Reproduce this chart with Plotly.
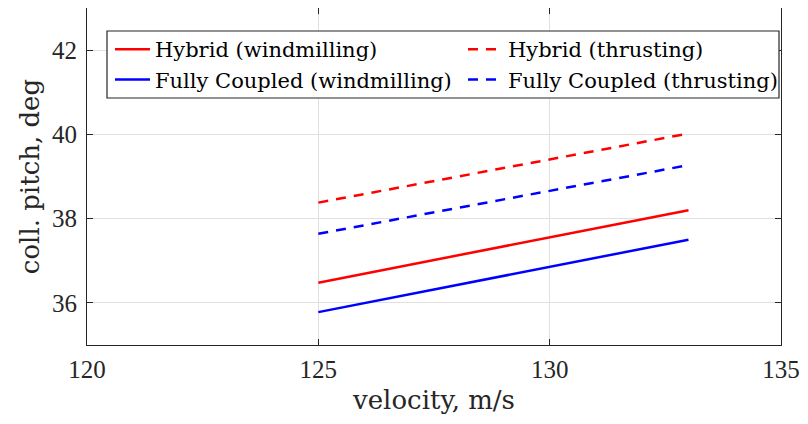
import plotly.graph_objects as go

velocity = [125, 133]
hybrid_wind = [36.48, 38.20]
fc_wind = [35.78, 37.50]
hybrid_thrust = [38.38, 40.02]
fc_thrust = [37.64, 39.27]

x_ticks = [120, 125, 130, 135]
y_ticks = [36, 38, 40, 42]

NUM_FONT = "Liberation Serif"
TXT_FONT = "DejaVu Serif"
AX = "#262626"

# page has an 8px body margin, so the figure is 8px smaller than the window
W, H = 800, 416
L, R, T, B = 79, 27, 0, 79
PW, PH = W - L - R, H - T - B
OFF = 8  # page offset of the figure


def px_x(page_x):
    return (page_x - OFF - L) / PW


def px_y(page_y):
    return (H - B - (page_y - OFF)) / PH


fig = go.Figure()
series = [
    ("Hybrid (windmilling)", hybrid_wind, "#ff0000", "solid", "legend"),
    ("Fully Coupled (windmilling)", fc_wind, "#0000ff", "solid", "legend"),
    ("Hybrid (thrusting)", hybrid_thrust, "#ff0000", "10px,8px", "legend2"),
    ("Fully Coupled (thrusting)", fc_thrust, "#0000ff", "10px,8px", "legend2"),
]
for name, vals, color, dash, leg in series:
    fig.add_trace(go.Scatter(x=velocity, y=vals, mode="lines", name=name, legend=leg,
                             line=dict(color=color, width=2.5, dash=dash)))

axis_common = dict(showline=True, linecolor=AX, linewidth=1.2, mirror="ticks",
                   ticks="inside", ticklen=6, tickcolor=AX, tickwidth=1.2,
                   showgrid=True, gridcolor="#e0e0e0", gridwidth=1, zeroline=False,
                   automargin=False,
                   tickfont=dict(family=NUM_FONT, size=25, color=AX))

fig.update_xaxes(range=[120, 135], tickvals=x_ticks, ticktext=[str(v) for v in x_ticks],
                 ticklabelstandoff=2,
                 title=dict(text="velocity, m/s", font=dict(family=TXT_FONT, size=26, color=AX), standoff=8),
                 **axis_common)
fig.update_yaxes(range=[35, 43], tickvals=y_ticks, ticktext=[str(v) for v in y_ticks],
                 ticklabelstandoff=4,
                 title=dict(text="coll. pitch, deg", font=dict(family=TXT_FONT, size=26, color=AX), standoff=4),
                 **axis_common)

# legend frame (two-column legend built from two legends)
fig.add_shape(type="rect", xref="paper", yref="paper",
              x0=px_x(107), x1=px_x(779), y0=px_y(98), y1=px_y(31),
              line=dict(color=AX, width=1.2), fillcolor="white", layer="above")

leg_common = dict(orientation="v", yanchor="top", xanchor="left",
                  bgcolor="rgba(0,0,0,0)", borderwidth=0, itemwidth=35, tracegroupgap=0,
                  font=dict(family=TXT_FONT, size=21, color="#000000"))

fig.update_layout(
    width=W, height=H,
    margin=dict(l=L, r=R, t=T, b=B),
    plot_bgcolor="white", paper_bgcolor="white",
    showlegend=True,
    legend=dict(x=px_x(110), y=px_y(29), **leg_common),
    legend2=dict(x=px_x(463), y=px_y(29), **leg_common),
)

fig.write_html("out.html")
